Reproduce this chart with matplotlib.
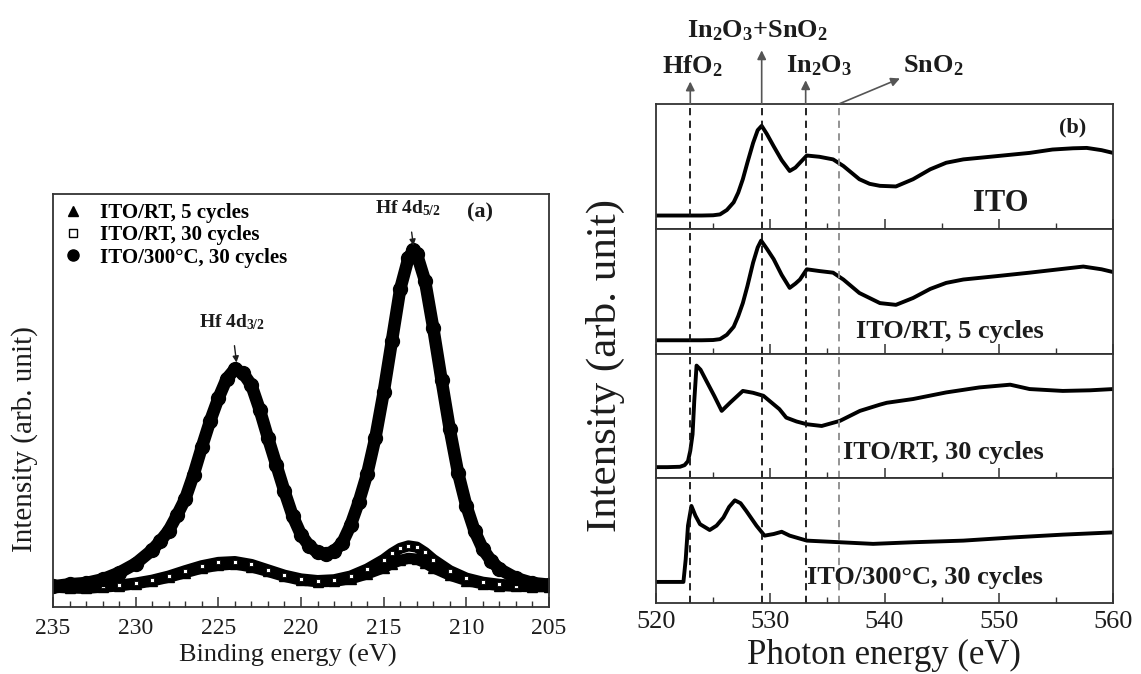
import matplotlib
matplotlib.use("Agg")
import matplotlib.pyplot as plt
from matplotlib.lines import Line2D
from matplotlib.ticker import MultipleLocator

plt.rcParams["font.family"] = ["Liberation Serif", "DejaVu Serif"]
plt.rcParams["mathtext.fontset"] = "custom"
plt.rcParams["mathtext.rm"] = "Liberation Serif"
plt.rcParams["mathtext.it"] = "Liberation Serif:italic"
plt.rcParams["mathtext.bf"] = "Liberation Serif:bold"

INK = "#1c1c1c"
SPINE = "#333333"

# (a) Hf 4d XPS, intensity in arbitrary units
BE_300C = [235.0, 234.0, 233.0, 232.0, 231.0, 230.0, 229.0, 228.5, 228.0, 227.5,
           227.0, 226.5, 226.0, 225.5, 225.0, 224.5, 224.0, 223.5, 223.0, 222.5,
           222.0, 221.5, 221.0, 220.5, 220.0, 219.5, 219.0, 218.5, 218.0, 217.5,
           217.0, 216.5, 216.0, 215.5, 215.0, 214.5, 214.0, 213.5, 213.2, 213.0,
           212.5, 212.0, 211.5, 211.0, 210.5, 210.0, 209.5, 209.0, 208.5, 208.0,
           207.0, 206.0, 205.0]
I_300C = [0.050, 0.055, 0.058, 0.067, 0.083, 0.105, 0.138, 0.160, 0.185, 0.222,
          0.262, 0.320, 0.387, 0.450, 0.505, 0.552, 0.576, 0.566, 0.537, 0.478,
          0.410, 0.345, 0.280, 0.220, 0.175, 0.148, 0.132, 0.128, 0.135, 0.155,
          0.198, 0.255, 0.322, 0.410, 0.520, 0.645, 0.770, 0.845, 0.864, 0.855,
          0.790, 0.675, 0.550, 0.430, 0.325, 0.245, 0.184, 0.140, 0.112, 0.092,
          0.070, 0.058, 0.054]

BE_RT = [235, 234, 233, 232, 231, 230, 229, 228, 227, 226, 225, 224, 223, 222,
         221, 220, 219, 218, 217, 216, 215, 214.5, 214, 213.5, 213, 212.5, 212,
         211, 210, 209, 208, 207, 206, 205]
I_RT_30 = [0.050, 0.048, 0.048, 0.050, 0.053, 0.058, 0.065, 0.075, 0.088, 0.100,
           0.108, 0.110, 0.103, 0.090, 0.077, 0.068, 0.064, 0.066, 0.075, 0.092,
           0.115, 0.130, 0.142, 0.148, 0.145, 0.132, 0.115, 0.088, 0.070, 0.060,
           0.055, 0.052, 0.050, 0.050]
I_RT_5 = [0.048, 0.046, 0.045, 0.048, 0.051, 0.056, 0.063, 0.072, 0.083, 0.094,
          0.101, 0.104, 0.097, 0.086, 0.074, 0.065, 0.061, 0.062, 0.068, 0.080,
          0.095, 0.105, 0.113, 0.118, 0.116, 0.107, 0.095, 0.077, 0.064, 0.056,
          0.052, 0.050, 0.049, 0.049]

LEGEND_A = ["ITO/RT, 5 cycles", "ITO/RT, 30 cycles", "ITO/300°C, 30 cycles"]

# (b) O K-edge XAS, each spectrum normalised to its own panel
E_ITO = [520, 522, 524, 525, 525.6, 526.2, 526.8, 527.2, 527.6, 528.0, 528.5,
         528.9, 529.25, 529.7, 530.3, 531.0, 531.7, 532.2, 532.6, 533.2, 534.3,
         535.5, 536.4, 537.1, 537.8, 538.7, 539.6, 541.0, 542.5, 544.0, 545.4,
         546.9, 549.8, 552.7, 554.7, 556.5, 557.7, 559.0, 560.0]
I_ITO = [0.106, 0.106, 0.106, 0.108, 0.115, 0.150, 0.212, 0.290, 0.397, 0.530,
         0.688, 0.790, 0.825, 0.760, 0.661, 0.550, 0.463, 0.490, 0.529, 0.587,
         0.577, 0.556, 0.503, 0.450, 0.397, 0.360, 0.344, 0.339, 0.397, 0.476,
         0.529, 0.556, 0.582, 0.608, 0.635, 0.645, 0.648, 0.630, 0.608]

E_RT5 = [520, 522, 524, 525, 525.6, 526.2, 526.8, 527.2, 527.6, 528.0, 528.5,
         528.9, 529.2, 529.7, 530.3, 531.0, 531.7, 532.2, 532.6, 533.2, 534.3,
         535.5, 536.4, 537.8, 539.6, 541.0, 542.5, 544.0, 545.4, 546.9, 549.8,
         552.7, 554.7, 557.4, 559.0, 560.0]
I_RT5 = [0.106, 0.106, 0.106, 0.108, 0.115, 0.150, 0.214, 0.300, 0.404, 0.540,
         0.729, 0.850, 0.905, 0.840, 0.756, 0.630, 0.526, 0.560, 0.593, 0.675,
         0.661, 0.648, 0.593, 0.485, 0.404, 0.390, 0.445, 0.518, 0.566, 0.593,
         0.620, 0.648, 0.669, 0.697, 0.675, 0.653]

E_RT30 = [520, 521, 522.1, 522.5, 522.8, 523.0, 523.2, 523.35, 523.55, 523.9,
          524.4, 525.1, 525.75, 526.5, 527.6, 528.5, 529.4, 530.8, 531.4, 532.3,
          533.2, 534.5, 536.1, 537.85, 539.6, 540.2, 542.5, 545.4, 548.3, 551.0,
          552.7, 555.6, 558.0, 560.0]
I_RT30 = [0.089, 0.089, 0.092, 0.105, 0.137, 0.220, 0.352, 0.621, 0.903, 0.870,
          0.782, 0.660, 0.540, 0.607, 0.700, 0.685, 0.661, 0.554, 0.486, 0.455,
          0.433, 0.419, 0.460, 0.540, 0.590, 0.605, 0.635, 0.688, 0.728, 0.750,
          0.715, 0.700, 0.705, 0.715]

E_300C = [520, 521, 522.4, 522.6, 522.8, 523.1, 523.45, 523.85, 524.7, 525.3,
          525.9, 526.4, 526.9, 527.4, 527.9, 528.8, 529.5, 530.3, 531.0, 531.7,
          533.2, 536.1, 539.0, 542.5, 546.9, 551.3, 555.6, 560.0]
I_300C_B = [0.169, 0.169, 0.169, 0.350, 0.620, 0.778, 0.700, 0.632, 0.585, 0.620,
            0.685, 0.770, 0.823, 0.800, 0.738, 0.619, 0.540, 0.553, 0.571, 0.540,
            0.500, 0.487, 0.474, 0.487, 0.500, 0.526, 0.548, 0.566]

PANELS_B = [
    (E_ITO, I_ITO, "ITO"),
    (E_RT5, I_RT5, "ITO/RT, 5 cycles"),
    (E_RT30, I_RT30, "ITO/RT, 30 cycles"),
    (E_300C, I_300C_B, "ITO/300°C, 30 cycles"),
]

# reference energies marked by dashed lines
MARK_E = [523.0, 529.25, 533.1, 536.0]
MARK_COLOR = ["#111111", "#111111", "#111111", "#8a8a8a"]

W, H = 1141, 674
fig = plt.figure(figsize=(W / 100, H / 100), dpi=100)


def px_box(x0, y0, x1, y1):
    return [x0 / W, 1 - y1 / H, (x1 - x0) / W, (y1 - y0) / H]


def style_spines(ax):
    for s in ax.spines.values():
        s.set_color(SPINE)
        s.set_linewidth(1.3)


# ---------------- panel (a) ----------------
ax = fig.add_axes(px_box(53, 194, 549, 607))
ax.plot(BE_RT, I_RT_5, color="k", lw=8, marker="^", ms=7, solid_capstyle="round")
ax.plot(BE_RT, I_RT_30, color="k", lw=8, marker="s", ms=3.5, mfc="white", mec="k", mew=0.6,
        solid_capstyle="round")
ax.plot(BE_300C, I_300C, color="k", lw=9, marker="o", ms=10, solid_capstyle="round")
ax.set_xlim(235, 205)
ax.set_ylim(0, 1)
ax.set_yticks([])
ax.xaxis.set_major_locator(MultipleLocator(5))
ax.xaxis.set_minor_locator(MultipleLocator(1))
ax.tick_params(axis="x", which="both", direction="in", top=False, colors=SPINE,
               labelcolor=INK, labelsize=17, pad=8)
ax.tick_params(axis="x", which="major", length=7, width=1.1)
ax.tick_params(axis="x", which="minor", length=4, width=1.0)
style_spines(ax)

handles = [
    Line2D([], [], ls="", marker="^", ms=7, color="k"),
    Line2D([], [], ls="", marker="s", ms=6, mfc="white", mec="k", mew=1.0),
    Line2D([], [], ls="", marker="o", ms=8, color="k"),
]
ax.legend(handles, LEGEND_A, loc="upper left", bbox_to_anchor=(0.0, 1.0), frameon=False,
          handlelength=1.0, handletextpad=0.8, borderaxespad=0.25, borderpad=0.2,
          labelspacing=0.1, prop={"weight": "bold", "size": 15})

ax.annotate(r"$\mathbf{Hf\ 4d_{5/2}}$", xy=(213.2, 0.875), xytext=(213.5, 0.965),
            ha="center", va="center", fontsize=14, color=INK,
            arrowprops=dict(arrowstyle="-|>", color=INK, lw=1.0, mutation_scale=9,
                            shrinkA=8, shrinkB=0))
ax.annotate(r"$\mathbf{Hf\ 4d_{3/2}}$", xy=(223.9, 0.592), xytext=(224.2, 0.69),
            ha="center", va="center", fontsize=14, color=INK,
            arrowprops=dict(arrowstyle="-|>", color=INK, lw=1.0, mutation_scale=9,
                            shrinkA=8, shrinkB=0))
ax.text(209.2, 0.955, "(a)", ha="center", va="center", fontsize=16, fontweight="bold",
        color=INK)

fig.text(288 / W, 1 - 655 / H, "Binding energy (eV)", ha="center", va="center",
         fontsize=19, color=INK)
fig.text(25 / W, 1 - 439 / H, "Intensity (arb. unit)", ha="center", va="center",
         rotation=90, fontsize=21, color=INK)

# ---------------- panel (b) ----------------
top, bottom = 104, 603
step = (bottom - top) / 4
axes_b = []
for k, (e, inten, label) in enumerate(PANELS_B):
    axb = fig.add_axes(px_box(656, top + k * step, 1113, top + (k + 1) * step))
    axb.plot(e, inten, color="k", lw=2.8, solid_joinstyle="round")
    for xm, cm in zip(MARK_E, MARK_COLOR):
        axb.axvline(xm, color=cm, lw=1.3, ls=(0, (4, 3)))
    axb.set_xlim(520, 560)
    axb.set_ylim(0, 1)
    axb.set_yticks([])
    axb.xaxis.set_major_locator(MultipleLocator(10))
    axb.xaxis.set_minor_locator(MultipleLocator(5))
    axb.tick_params(axis="x", which="both", direction="in", colors=SPINE,
                    labelcolor=INK, labelsize=19, pad=6,
                    labelbottom=(k == 3))
    axb.tick_params(axis="x", which="major", length=7, width=1.1)
    axb.tick_params(axis="x", which="minor", length=4, width=1.0)
    style_spines(axb)
    if k == 0:
        axb.text(550.2, 0.205, label, ha="center", va="center", fontsize=22,
                 fontweight="bold", color=INK)
    else:
        y_lab = 0.18 if k == 1 else 0.205
        axb.text(553.9, y_lab, label, ha="right", va="center", fontsize=19,
                 fontweight="bold", color=INK)
    axes_b.append(axb)

ax_top = axes_b[0]
ax_top.text(556.5, 0.815, "(b)", ha="center", va="center", fontsize=16,
            fontweight="bold", color=INK)

arrow_kw = dict(arrowstyle="-|>", color="#555555", lw=1.2, mutation_scale=13,
                shrinkA=0, shrinkB=0)
tr = ("data", "axes fraction")
ax_top.annotate("", xy=(523.0, 1.18), xytext=(523.0, 1.0), xycoords=tr, textcoords=tr,
                arrowprops=arrow_kw, annotation_clip=False)
ax_top.annotate("", xy=(529.25, 1.43), xytext=(529.25, 1.0), xycoords=tr, textcoords=tr,
                arrowprops=arrow_kw, annotation_clip=False)
ax_top.annotate("", xy=(533.1, 1.19), xytext=(533.1, 1.0), xycoords=tr, textcoords=tr,
                arrowprops=arrow_kw, annotation_clip=False)
ax_top.annotate("", xy=(541.35, 1.205), xytext=(536.0, 1.0), xycoords=tr, textcoords=tr,
                arrowprops=arrow_kw, annotation_clip=False)

lab_kw = dict(transform=ax_top.get_xaxis_transform(), va="center", fontsize=19,
              color=INK, clip_on=False)
ax_top.text(523.15, 1.30, r"$\mathbf{HfO_2}$", ha="center", **lab_kw)
ax_top.text(528.9, 1.59, r"$\mathbf{In_2O_3{+}SnO_2}$", ha="center", **lab_kw)
ax_top.text(534.3, 1.31, r"$\mathbf{In_2O_3}$", ha="center", **lab_kw)
ax_top.text(541.6, 1.31, r"$\mathbf{SnO_2}$", ha="left", **lab_kw)

fig.text(884 / W, 1 - 655 / H, "Photon energy (eV)", ha="center", va="center",
         fontsize=25, color=INK)
fig.text(605 / W, 1 - 366 / H, "Intensity (arb. unit)", ha="center", va="center",
         rotation=90, fontsize=31, color=INK)

fig.savefig("out.png", dpi=100, facecolor="white")
